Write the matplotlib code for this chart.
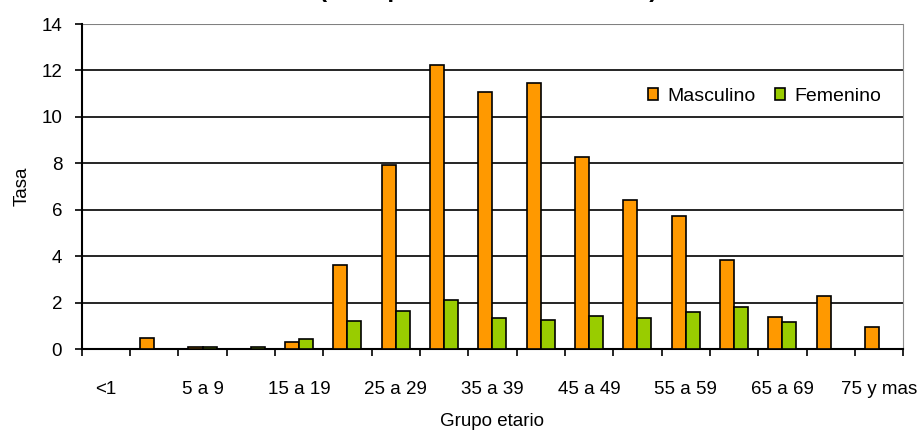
import numpy as np
import matplotlib
matplotlib.use("Agg")
import matplotlib.pyplot as plt

plt.rcParams['font.family'] = ['Liberation Sans', 'DejaVu Sans']

# Age groups and rates by sex
grupos = ['<1', '1 a 4', '5 a 9', '10 a 14', '15 a 19', '20 a 24', '25 a 29',
          '30 a 34', '35 a 39', '40 a 44', '45 a 49', '50 a 54', '55 a 59',
          '60 a 64', '65 a 69', '70 a 74', '75 y mas']
masculino = [0.0, 0.46, 0.1, 0.0, 0.3, 3.62, 7.93, 12.22, 11.06, 11.46, 8.26,
             6.42, 5.72, 3.84, 1.4, 2.27, 0.94]
femenino = [0.0, 0.0, 0.1, 0.1, 0.45, 1.2, 1.64, 2.1, 1.34, 1.25, 1.41,
            1.33, 1.58, 1.8, 1.16, 0.0, 0.0]
titulo = '(Tasa por 100.000 habitantes)'

x = np.arange(len(grupos))
w = 0.29
fs = 13.5

fig = plt.figure(figsize=(9.21, 4.32), dpi=100)
ax = fig.add_axes([0.0887, 0.1921, 0.892, 0.7523])

ax.bar(x - w / 2, masculino, w, color='#FF9900', edgecolor='black',
       linewidth=1.2, label='Masculino', zorder=3)
ax.bar(x + w / 2, femenino, w, color='#99CC00', edgecolor='black',
       linewidth=1.2, label='Femenino', zorder=3)

ax.set_ylim(0, 14)
ax.set_xlim(-0.5, len(grupos) - 0.5)
ax.set_yticks(np.arange(0, 15, 2))
for y in range(2, 14, 2):
    ax.axhline(y, color='black', linewidth=1.2, zorder=1)
ax.axhline(14, color='#808080', linewidth=1.5, zorder=1)

# tick marks on category boundaries, labels on every other category
ax.set_xticks(np.arange(-0.5, len(grupos), 1))
ax.set_xticklabels([])
ax.set_xticks(x[::2], minor=True)
ax.set_xticklabels(grupos[::2], minor=True)
ax.tick_params(axis='x', which='major', direction='out', length=5, width=1.2)
ax.tick_params(axis='x', which='minor', length=0, pad=23, labelsize=fs)
ax.tick_params(axis='y', direction='out', length=5, width=1.2, labelsize=fs, pad=9)

ax.spines['top'].set_visible(False)
ax.spines['right'].set_color('#909090')
ax.spines['left'].set_linewidth(1.5)
ax.spines['bottom'].set_linewidth(1.5)

ax.set_xlabel('Grupo etario', fontsize=fs, labelpad=11)
ax.set_ylabel('Tasa', fontsize=fs, labelpad=8)

ax.legend(loc='center left', bbox_to_anchor=(0.6895, 0.778), ncol=2,
          frameon=False, fontsize=14, borderaxespad=0, borderpad=0,
          handlelength=0.53, handleheight=0.53, handletextpad=0.45,
          columnspacing=1.0)

fig.text(0.53, 1.007, titulo, ha='center', va='baseline', fontsize=17.5,
         fontweight='bold')

fig.savefig('out.png', dpi=100)
